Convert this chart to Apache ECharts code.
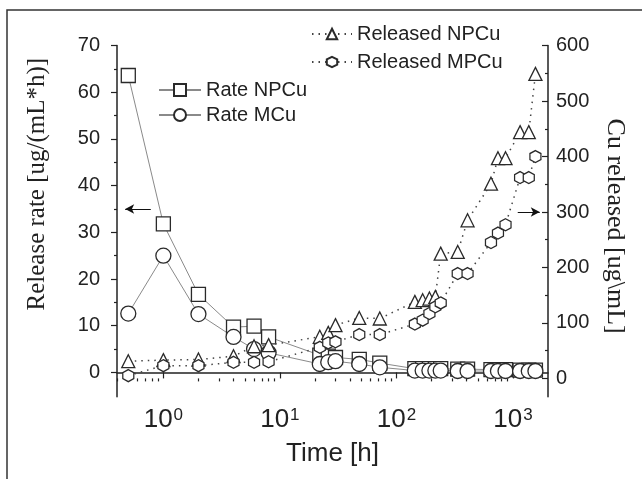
<!DOCTYPE html>
<html>
<head>
<meta charset="utf-8">
<script src="https://cdn.jsdelivr.net/npm/echarts@6/dist/echarts.min.js"></script>
<style>
html,body{margin:0;padding:0;background:#fff;}
#chart{width:642px;height:479px;}
</style>
</head>
<body>
<div id="chart"></div>
<script>
// ---- data ----
var times = [0.5, 1, 2, 4, 6, 8, 22, 26, 30, 48, 72, 144, 168, 192, 216, 240, 336, 408, 648, 744, 864, 1152, 1368, 1560];
var rateNPCu = [63.6, 31.8, 16.7, 9.7, 9.9, 7.6, 3.7, 3.5, 3.2, 2.8, 2.0, 0.8, 0.8, 0.8, 0.8, 0.8, 0.7, 0.7, 0.6, 0.6, 0.6, 0.5, 0.5, 0.5];
var rateMCu = [12.6, 25.0, 12.5, 7.6, 5.0, 4.2, 1.8, 2.2, 2.4, 1.8, 1.1, 0.4, 0.4, 0.4, 0.4, 0.4, 0.3, 0.3, 0.3, 0.3, 0.3, 0.3, 0.3, 0.3];
var releasedNPCu = [31, 33, 34, 40, 58, 60, 75, 82, 96, 109, 108, 138, 141, 144, 147, 225, 228, 285, 351, 397, 397, 444, 444, 549];
var releasedMPCu = [5, 23, 23, 29, 29, 30, 56, 64, 66, 79, 79, 98, 105, 117, 129, 136, 189, 189, 245, 262, 277, 362, 362, 400];
var seriesNames = ['Rate NPCu', 'Rate MCu', 'Released NPCu', 'Released MPCu'];
var xMajorTicks = [1, 10, 100, 1000];
var xMinorTicks = [0.4,0.5,0.6,0.7,0.8,0.9, 2,3,4,5,6,7,8,9, 20,30,40,50,60,70,80,90, 200,300,400,500,600,700,800,900];
var leftMajorTicks = [0, 10, 20, 30, 40, 50, 60, 70];
var leftMinorTicks = [5, 15, 25, 35, 45, 55, 65];
var rightMajorTicks = [0, 100, 200, 300, 400, 500, 600];
var rightMinorTicks = [50, 150, 250, 350, 450, 550];
var leftArrow = [[0.78, 35], [0.47, 35]];
var rightArrow = [[1100, 300], [1700, 300]];

function pairs(xs, ys){ return xs.map(function(x,i){ return [x, ys[i]]; }); }

var SANS = '"Liberation Sans", Arial, sans-serif';
var SERIF = '"Liberation Serif", "Times New Roman", serif';
var hexPath = 'path://M0,-1 L0.866,-0.5 L0.866,0.5 L0,1 L-0.866,0.5 L-0.866,-0.5 Z';
var supMap = {1:'0', 10:'1', 100:'2', 1000:'3'};

var grid = {left: 117, right: 94, top: 45.6, bottom: 82.3};
var axisLineStyle = {color: '#222', width: 1.5};

var markerStyle = {color: '#fff', borderColor: '#2a2a2a', borderWidth: 1.3};

var option = {
  animation: false,
  backgroundColor: '#fff',
  grid: grid,
  legend: [
    {
      data: [seriesNames[0], seriesNames[1]],
      orient: 'vertical', left: 153, top: 75,
      itemWidth: 42, itemHeight: 15, itemGap: 5,
      textStyle: {fontFamily: SANS, fontSize: 20, color: '#222'}
    },
    {
      data: [seriesNames[2], seriesNames[3]],
      orient: 'vertical', left: 306, top: 19,
      itemWidth: 40, itemHeight: 13, itemGap: 8,
      textStyle: {fontFamily: SANS, fontSize: 20, color: '#222'}
    }
  ],
  xAxis: [
    {
      type: 'log', min: 0.4, max: 2000, logBase: 10,
      name: 'Time [h]', nameLocation: 'middle', nameGap: 44,
      nameTextStyle: {fontFamily: SANS, fontSize: 26, color: '#222'},
      axisLine: {lineStyle: axisLineStyle},
      axisTick: {customValues: xMajorTicks, length: 6, lineStyle: {color: '#222', width: 1.2}},
      axisLabel: {
        customValues: xMajorTicks, margin: 10,
        formatter: function(v){ return '{b|10}{s|' + (supMap[Math.round(v)] || '') + '}'; },
        rich: {
          b: {fontFamily: SANS, fontSize: 26, color: '#222', lineHeight: 26, padding: [4,0,0,0], verticalAlign: 'bottom'},
          s: {fontFamily: SANS, fontSize: 17, color: '#222', lineHeight: 15, verticalAlign: 'top', padding: [0,0,0,1]}
        }
      },
      splitLine: {show: false}, minorSplitLine: {show: false}
    },
    {
      type: 'log', min: 0.4, max: 2000, logBase: 10, position: 'bottom',
      axisLine: {show: false},
      axisTick: {customValues: xMinorTicks, length: 3, lineStyle: {color: '#222', width: 1.2}},
      axisLabel: {show: false}, splitLine: {show: false}
    }
  ],
  yAxis: [
    {
      type: 'value', min: -5.2, max: 70, position: 'left',
      name: 'Release rate [ug/(mL*h)]', nameLocation: 'middle', nameGap: 67,
      nameTextStyle: {fontFamily: SERIF, fontSize: 25, color: '#222', padding: [0,0,0,74]},
      axisLine: {show: true, lineStyle: axisLineStyle},
      axisTick: {show: true, customValues: leftMajorTicks, length: 6, lineStyle: {color: '#222', width: 1.2}},
      axisLabel: {customValues: leftMajorTicks, margin: 17, fontFamily: SANS, fontSize: 20, color: '#222'},
      splitLine: {show: false}
    },
    {
      type: 'value', min: -33, max: 600, position: 'right',
      name: 'Cu released [ug\\mL]', nameLocation: 'middle', nameGap: 54, nameRotate: -90,
      nameTextStyle: {fontFamily: SERIF, fontSize: 26, color: '#222', padding: [0,0,0,10]},
      axisLine: {show: true, lineStyle: axisLineStyle},
      axisTick: {show: true, inside: true, customValues: rightMajorTicks, length: 6, lineStyle: {color: '#222', width: 1.2}},
      axisLabel: {customValues: rightMajorTicks, margin: 8, fontFamily: SANS, fontSize: 20, color: '#222'},
      splitLine: {show: false}
    },
    {
      type: 'value', min: -5.2, max: 70, position: 'left',
      axisLine: {show: false},
      axisTick: {show: true, customValues: leftMinorTicks, length: 3, lineStyle: {color: '#222', width: 1.2}},
      axisLabel: {show: false}, splitLine: {show: false}
    },
    {
      type: 'value', min: -33, max: 600, position: 'right',
      axisLine: {show: false},
      axisTick: {show: true, inside: true, customValues: rightMinorTicks, length: 3, lineStyle: {color: '#222', width: 1.2}},
      axisLabel: {show: false}, splitLine: {show: false}
    }
  ],
  series: [
    {
      name: seriesNames[0], type: 'line', xAxisIndex: 0, yAxisIndex: 0,
      data: pairs(times, rateNPCu),
      symbol: 'rect', symbolSize: 14, showAllSymbol: true,
      lineStyle: {color: '#8a8a8a', width: 1},
      itemStyle: markerStyle,
      markLine: {
        silent: true, symbol: ['none', 'arrow'], symbolSize: [7, 9],
        label: {show: false},
        lineStyle: {color: '#111', width: 1, type: 'solid'},
        data: [[{coord: leftArrow[0]}, {coord: leftArrow[1]}]]
      },
      z: 3
    },
    {
      name: seriesNames[1], type: 'line', xAxisIndex: 0, yAxisIndex: 0,
      data: pairs(times, rateMCu),
      symbol: 'circle', symbolSize: 15, showAllSymbol: true,
      lineStyle: {color: '#8a8a8a', width: 1},
      itemStyle: markerStyle,
      z: 3
    },
    {
      name: seriesNames[2], type: 'line', xAxisIndex: 0, yAxisIndex: 1,
      data: pairs(times, releasedNPCu),
      symbol: 'triangle', symbolSize: 13, showAllSymbol: true,
      lineStyle: {color: '#444', width: 1.5, type: [1.5, 5]},
      itemStyle: markerStyle,
      markLine: {
        silent: true, symbol: ['none', 'arrow'], symbolSize: [7, 9],
        label: {show: false},
        lineStyle: {color: '#111', width: 1, type: 'solid'},
        data: [[{coord: rightArrow[0]}, {coord: rightArrow[1]}]]
      },
      z: 4
    },
    {
      name: seriesNames[3], type: 'line', xAxisIndex: 0, yAxisIndex: 1,
      data: pairs(times, releasedMPCu),
      symbol: hexPath, symbolSize: [11, 12], showAllSymbol: true,
      lineStyle: {color: '#444', width: 1.5, type: [1.5, 5]},
      itemStyle: markerStyle,
      z: 4
    }
  ],
  graphic: [
    {type: 'polyline', silent: true, shape: {points: [[7, 480], [7, 10], [642, 10]]}, style: {stroke: '#333', lineWidth: 1.5, fill: null}}
  ]
};

var chart = echarts.init(document.getElementById('chart'), null, {renderer: 'canvas'});
chart.setOption(option);
</script>
</body>
</html>
